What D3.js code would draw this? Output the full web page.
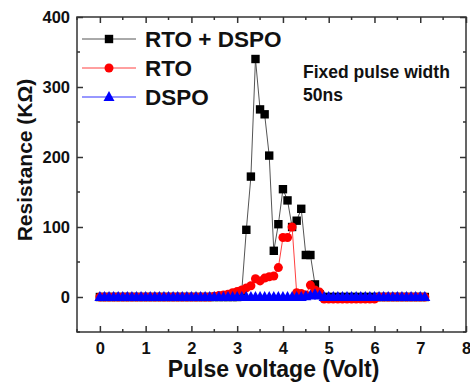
<!DOCTYPE html>
<html><head><meta charset="utf-8">
<script src="https://cdnjs.cloudflare.com/ajax/libs/d3/7.8.5/d3.min.js"></script>
<style>body{margin:0;background:#fff}svg{display:block}text{font-family:"Liberation Sans",Arial,sans-serif;font-weight:bold}</style>
</head><body><svg id="c" width="470" height="385"></svg>
<script>
const voltages = d3.range(0, 72).map(i => +(i * 0.1).toFixed(1));
// RTO + DSPO (black squares), one value per 0.1 V from 0 to 7.1 V
const rtoDspo = [
 0,0,0,0,0,0,0,0,0,0,
 0,0,0,0,0,0,0,0,0,0,
 0,0,0,0,0,0,0,0,0,0,
 0,8,96,172,340,268,261,202,66,104,
 154,138,100,109,126,60,60,18,4,0,
 0,0,0,0,0,0,0,0,0,0,
 0,0,0,0,0,0,0,0,0,0,
 0,0];
// RTO (red circles)
const rto = [
 0,0,0,0,0,0,0,0,0,0,
 0,0,0,0,0,0,0,0,0,0,
 0,0,0,0,0,1,2,3,4,6,
 8,10,13,16,26,23,27,29,30,42,
 85,85,100,6,5,3,17,10,7,-3,
 -3,-3,-3,-3,-3,-3,-3,-3,-3,-3,
 -3,0,0,0,0,0,0,0,0,0,
 0,0];
// DSPO (blue triangles)
const dspo = [
 0,0,0,0,0,0,0,0,0,0,
 0,0,0,0,0,0,0,0,0,0,
 0,0,0,0,0,0,0,0,0,0,
 0,0,0,0,0,0,0,0,0,0,
 0,0,0,0,0,1,2,4,2,0,
 0,0,0,0,0,0,0,0,0,0,
 0,0,0,0,0,0,0,0,0,0,
 0,0];
const xTicks = [0,1,2,3,4,5,6,7,8];
const yTicks = [0,100,200,300,400];
const seriesNames = ["RTO + DSPO","RTO","DSPO"];

const svg = d3.select("#c");
const L = 77, R = 466, T = 17, B = 332;
const x = d3.scaleLinear().domain([-0.5, 8]).range([L, R]);
const y = d3.scaleLinear().domain([-50, 400]).range([B, T]);

const series = [
 {name: seriesNames[0], vals: rtoDspo, color: "#000", line: "#555", shape: "square"},
 {name: seriesNames[1], vals: rto, color: "#ff0000", line: "#ff4040", shape: "circle"},
 {name: seriesNames[2], vals: dspo, color: "#0000ff", line: "#3030ff", shape: "triangle"}
];
function marker(g, shape, color) {
  if (shape === "square") g.append("rect").attr("x",-4.2).attr("y",-4.2).attr("width",8.4).attr("height",8.4).attr("fill",color);
  else if (shape === "circle") g.append("circle").attr("r",4.5).attr("fill",color);
  else g.append("path").attr("d","M0,-6L5.5,4L-5.5,4Z").attr("fill",color);
}
const line = d3.line().x((d,i)=>x(voltages[i])).y(d=>y(d));
const plot = svg.append("g");
series.forEach(s => {
  plot.append("path").attr("d", line(s.vals)).attr("fill","none").attr("stroke", s.line).attr("stroke-width",1);
  s.vals.forEach((v,i) => {
    const g = plot.append("g").attr("transform",`translate(${x(voltages[i])},${y(v)})`);
    marker(g, s.shape, s.color);
  });
});

// frame & axes (ticks inward)
const axCol = "#333";
const axB = d3.axisBottom(x).tickValues(xTicks).tickSize(-6).tickPadding(10).tickFormat(d3.format("d"));
const gB = svg.append("g").attr("transform",`translate(0,${B})`).call(axB);
const axT = d3.axisTop(x).tickValues(xTicks).tickSize(-6).tickFormat("");
const gT = svg.append("g").attr("transform",`translate(0,${T})`).call(axT);
const minorX = d3.range(-0.5, 8, 1);
const axL = d3.axisLeft(y).tickValues(yTicks).tickSize(-6).tickPadding(7).tickFormat(d3.format("d"));
const gL = svg.append("g").attr("transform",`translate(${L},0)`).call(axL);
const axR = d3.axisRight(y).tickValues(yTicks).tickSize(-6).tickFormat("");
const gR = svg.append("g").attr("transform",`translate(${R},0)`).call(axR);
const minorY = [-50,50,150,250,350];
[gB,gT,gL,gR].forEach(g => {
  g.select(".domain").remove();
  g.selectAll("line").attr("stroke",axCol).attr("stroke-width",1.5);
  g.selectAll("text").attr("fill","#111").style("font-size","16.5px");
});
minorX.forEach(v => {
  svg.append("line").attr("x1",x(v)).attr("x2",x(v)).attr("y1",B).attr("y2",B-3).attr("stroke",axCol).attr("stroke-width",1.5);
  svg.append("line").attr("x1",x(v)).attr("x2",x(v)).attr("y1",T).attr("y2",T+3).attr("stroke",axCol).attr("stroke-width",1.5);
});
minorY.forEach(v => {
  svg.append("line").attr("y1",y(v)).attr("y2",y(v)).attr("x1",L).attr("x2",L+3).attr("stroke",axCol).attr("stroke-width",1.5);
  svg.append("line").attr("y1",y(v)).attr("y2",y(v)).attr("x1",R).attr("x2",R-3).attr("stroke",axCol).attr("stroke-width",1.5);
});
svg.append("rect").attr("x",L).attr("y",T).attr("width",R-L).attr("height",B-T).attr("fill","none").attr("stroke",axCol).attr("stroke-width",1.5);

// axis titles
svg.append("text").attr("x",273.5).attr("y",377).attr("text-anchor","middle").style("font-size","23px").attr("fill","#111").text("Pulse voltage (Volt)");
svg.append("text").attr("transform","translate(32,160) rotate(-90)").attr("text-anchor","middle").style("font-size","21px").attr("fill","#111").text("Resistance (KΩ)");

// legend
const legY = [39, 68, 97];
series.forEach((s,i) => {
  const g = svg.append("g").attr("transform",`translate(0,${legY[i]})`);
  g.append("line").attr("x1",82).attr("x2",136).attr("y1",0).attr("y2",0).attr("stroke",s.line).attr("stroke-width",1);
  const m = g.append("g").attr("transform","translate(109,0)");
  marker(m, s.shape, s.color);
  g.append("text").attr("x",145).attr("y",8).style("font-size","22.5px").attr("fill","#111").text(s.name);
});
svg.append("text").attr("x",303).attr("y",78).style("font-size","17.5px").attr("fill","#111").text("Fixed pulse width");
svg.append("text").attr("x",303).attr("y",101).style("font-size","17.5px").attr("fill","#111").text("50ns");
</script></body></html>
